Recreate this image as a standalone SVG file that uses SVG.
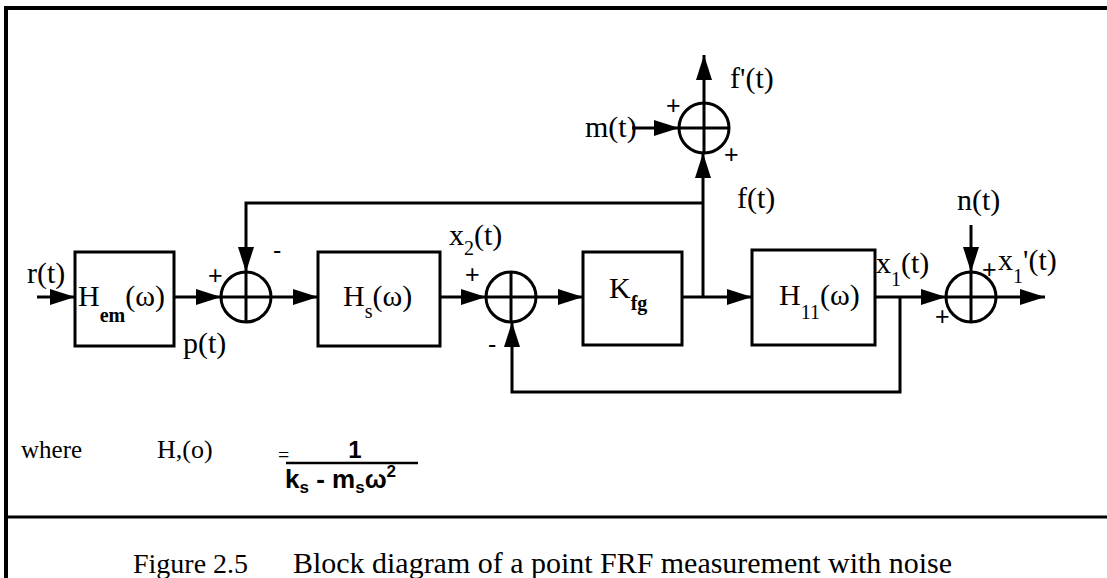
<svg xmlns="http://www.w3.org/2000/svg" width="1107" height="578" viewBox="0 0 1107 578">
<style>
.ln{fill:none;stroke:#000;stroke-width:3}
.bx{fill:#fff;stroke:#000;stroke-width:3}
.sm{fill:none;stroke:#000;stroke-width:3}
.lb{font-family:"Liberation Serif","Times New Roman",serif;font-size:30px;fill:#000}
.sb{font-size:20px}
.sbb{font-size:20px;font-weight:bold}
.pm{font-family:"Liberation Sans",Arial,sans-serif;font-size:25px;fill:#000}
.tx{font-family:"Liberation Serif","Times New Roman",serif;fill:#000}
.eq{font-family:"Liberation Sans",Arial,sans-serif;font-weight:bold;fill:#000}
</style>
<defs>
<marker id="ah" markerUnits="userSpaceOnUse" markerWidth="26" markerHeight="18" refX="25" refY="8" orient="auto">
<path d="M0,0 L25,8 L0,16 Z" fill="#000"/>
</marker>
</defs>
<rect width="1107" height="578" fill="#fff"/>
<g id="frame">
<line x1="4" y1="8" x2="1107" y2="8" stroke="#000" stroke-width="4"/>
<line x1="6" y1="6" x2="6" y2="578" stroke="#000" stroke-width="4"/>
<line x1="4" y1="517" x2="1107" y2="517" stroke="#000" stroke-width="3"/>
</g>
<g id="connectors">
<line class="ln" x1="37" y1="297" x2="75" y2="297" marker-end="url(#ah)"/>
<line class="ln" x1="174" y1="297" x2="221" y2="297" marker-end="url(#ah)"/>
<line class="ln" x1="271" y1="297" x2="318" y2="297" marker-end="url(#ah)"/>
<line class="ln" x1="440" y1="297" x2="486" y2="297" marker-end="url(#ah)"/>
<line class="ln" x1="536" y1="297" x2="583" y2="297" marker-end="url(#ah)"/>
<line class="ln" x1="682" y1="297" x2="752" y2="297" marker-end="url(#ah)"/>
<line class="ln" x1="703" y1="297" x2="703" y2="153" marker-end="url(#ah)"/>
<polyline class="ln" points="703,203 246,203 246,272" marker-end="url(#ah)"/>
<line class="ln" x1="632" y1="128" x2="679" y2="128" marker-end="url(#ah)"/>
<line class="ln" x1="704" y1="103" x2="704" y2="55" marker-end="url(#ah)"/>
<line class="ln" x1="875" y1="297" x2="946" y2="297" marker-end="url(#ah)"/>
<polyline class="ln" points="900,297 900,392 512,392 512,322" marker-end="url(#ah)"/>
<line class="ln" x1="971" y1="225" x2="971" y2="272" marker-end="url(#ah)"/>
<line class="ln" x1="996" y1="297" x2="1045" y2="297" marker-end="url(#ah)"/>
</g>
<g id="Hem">
<rect class="bx" x="75" y="252" width="99" height="94"/>
<text class="lb" x="78" y="306">H<tspan class="sbb" dy="16">em</tspan><tspan dy="-16">(ω)</tspan></text>
</g>
<g id="sum1">
<circle class="sm" cx="246" cy="297" r="25"/>
<line class="ln" x1="221" y1="297" x2="271" y2="297"/>
<line class="ln" x1="246" y1="272" x2="246" y2="322"/>
</g>
<g id="Hs">
<rect class="bx" x="318" y="252" width="122" height="94"/>
<text class="lb" x="343" y="306">H<tspan class="sb" dy="12">s</tspan><tspan dy="-12">(ω)</tspan></text>
</g>
<g id="sum2">
<circle class="sm" cx="511" cy="297" r="25"/>
<line class="ln" x1="486" y1="297" x2="536" y2="297"/>
<line class="ln" x1="511" y1="272" x2="511" y2="322"/>
</g>
<g id="Kfg">
<rect class="bx" x="583" y="252" width="99" height="93"/>
<text class="lb" x="609" y="298">K<tspan class="sbb" dy="12">fg</tspan></text>
</g>
<g id="H11">
<rect class="bx" x="752" y="250" width="123" height="95"/>
<text class="lb" x="779" y="305">H<tspan class="sb" dy="14">11</tspan><tspan dy="-14">(ω)</tspan></text>
</g>
<g id="sum3">
<circle class="sm" cx="704" cy="128" r="25"/>
<line class="ln" x1="679" y1="128" x2="729" y2="128"/>
<line class="ln" x1="704" y1="103" x2="704" y2="153"/>
</g>
<g id="sum4">
<circle class="sm" cx="971" cy="297" r="25"/>
<line class="ln" x1="946" y1="297" x2="996" y2="297"/>
<line class="ln" x1="971" y1="272" x2="971" y2="322"/>
</g>
<g id="labels">
<text class="lb" x="27" y="283">r(t)</text>
<text class="lb" x="183" y="353">p(t)</text>
<text class="pm" x="208" y="284">+</text>
<text class="pm" x="273" y="259">-</text>
<text class="lb" x="449" y="245">x<tspan class="sb" dy="10">2</tspan><tspan dy="-10">(t)</tspan></text>
<text class="pm" x="465" y="283">+</text>
<text class="pm" x="488" y="353">-</text>
<text class="lb" x="737" y="208">f(t)</text>
<text class="lb" x="585" y="137">m(t)</text>
<text class="pm" x="666" y="114">+</text>
<text class="pm" x="724" y="163">+</text>
<text class="lb" x="730" y="88">f'(t)</text>
<text class="lb" x="876" y="273">x<tspan class="sb" dy="13">1</tspan><tspan dy="-13">(t)</tspan></text>
<text class="lb" x="957" y="210">n(t)</text>
<text class="pm" x="982" y="278">+</text>
<text class="lb" x="998" y="270">x<tspan class="sb" dy="13">1</tspan><tspan dy="-13">'(t)</tspan></text>
<text class="pm" x="935" y="325">+</text>
</g>
<g id="equation">
<text class="tx" x="21" y="458" font-size="25">where</text>
<text class="tx" x="157" y="458" font-size="26">H,(o)</text>
<text class="tx" x="278" y="462" font-size="20">=</text>
<line x1="286" y1="463" x2="418" y2="463" stroke="#000" stroke-width="2.5"/>
<text class="eq" x="355" y="458" font-size="24" text-anchor="middle">1</text>
<text class="eq" x="285" y="488" font-size="26">k<tspan font-size="17" dy="5">s</tspan><tspan dy="-5"> - m</tspan><tspan font-size="17" dy="5">s</tspan><tspan dy="-5">ω</tspan><tspan font-size="17" dy="-11">2</tspan></text>
</g>
<g id="caption">
<text class="tx" x="133" y="573" font-size="28">Figure 2.5</text>
<text class="tx" x="293" y="573" font-size="29" textLength="659" lengthAdjust="spacingAndGlyphs">Block diagram of a point FRF measurement with noise</text>
</g>
</svg>
